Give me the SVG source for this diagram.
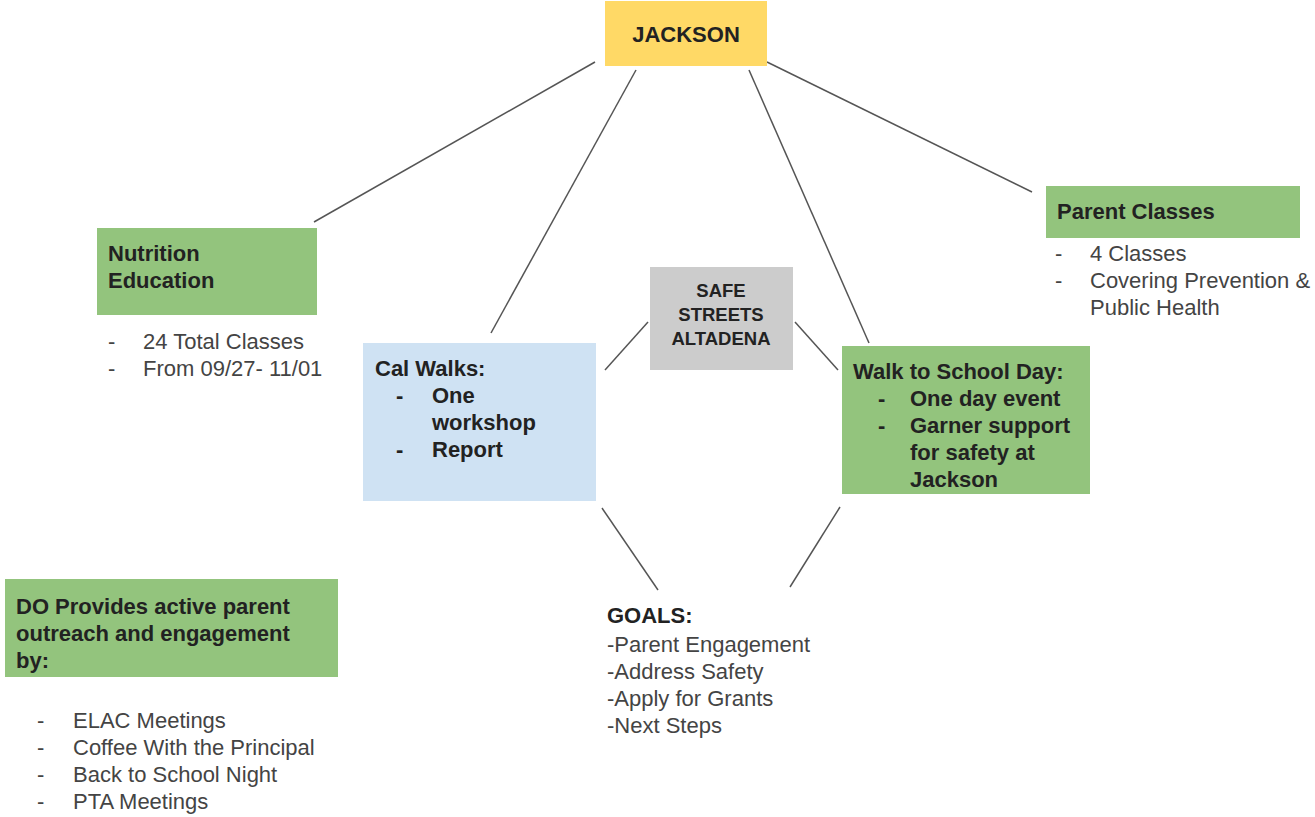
<svg xmlns="http://www.w3.org/2000/svg" width="1315" height="817" viewBox="0 0 1315 817">
<style>
text{font-family:"Liberation Sans",Arial,sans-serif;}
.h{font-weight:bold;font-size:22px;fill:#222;}
.b{font-size:22px;fill:#444;}
.c{font-weight:bold;fill:#222;text-anchor:middle;}
.green{fill:#93c47d;}
.conn line{stroke:#555;stroke-width:1.5;}
</style>
<rect width="1315" height="817" fill="#fff"/>
<g id="connectors" class="conn">
<line x1="595" y1="62" x2="314" y2="222"/>
<line x1="636" y1="70" x2="491" y2="333"/>
<line x1="749" y1="70" x2="869" y2="343"/>
<line x1="767" y1="62" x2="1032" y2="192"/>
<line x1="605" y1="370" x2="648" y2="322"/>
<line x1="795" y1="322" x2="838" y2="370"/>
<line x1="602" y1="508" x2="658" y2="590"/>
<line x1="840" y1="507" x2="790" y2="587"/>
</g>
<g id="jackson">
<rect x="605" y="1" width="162" height="65" fill="#ffd966"/>
<text class="c" x="686" y="42" font-size="22">JACKSON</text>
</g>
<g id="nutrition">
<rect class="green" x="97" y="228" width="220" height="87"/>
<text class="h" x="108" y="261">Nutrition</text>
<text class="h" x="108" y="288">Education</text>
<text class="b" x="108" y="349">-</text><text class="b" x="143" y="349">24 Total Classes</text>
<text class="b" x="108" y="376">-</text><text class="b" x="143" y="376">From 09/27- 11/01</text>
</g>
<g id="calwalks">
<rect x="363" y="343" width="233" height="158" fill="#cfe2f3"/>
<text class="h" x="375" y="376">Cal Walks:</text>
<text class="h" x="396" y="403">-</text><text class="h" x="432" y="403">One</text>
<text class="h" x="432" y="430">workshop</text>
<text class="h" x="396" y="457">-</text><text class="h" x="432" y="457">Report</text>
</g>
<g id="safestreets">
<rect x="650" y="267" width="143" height="103" fill="#cccccc"/>
<text class="c" x="721" y="297" font-size="18.5">SAFE</text>
<text class="c" x="721" y="321" font-size="18.5">STREETS</text>
<text class="c" x="721" y="345" font-size="18.5">ALTADENA</text>
</g>
<g id="walktoschool">
<rect class="green" x="842" y="346" width="248" height="148"/>
<text class="h" x="853" y="379">Walk to School Day:</text>
<text class="h" x="878" y="406">-</text><text class="h" x="910" y="406">One day event</text>
<text class="h" x="878" y="433">-</text><text class="h" x="910" y="433">Garner support</text>
<text class="h" x="910" y="460">for safety at</text>
<text class="h" x="910" y="487">Jackson</text>
</g>
<g id="parentclasses">
<rect class="green" x="1046" y="186" width="254" height="52"/>
<text class="h" x="1057" y="219">Parent Classes</text>
<text class="b" x="1055" y="261">-</text><text class="b" x="1090" y="261">4 Classes</text>
<text class="b" x="1055" y="288">-</text><text class="b" x="1090" y="288">Covering Prevention &amp;</text>
<text class="b" x="1090" y="315">Public Health</text>
</g>
<g id="doprovides">
<rect class="green" x="5" y="579" width="333" height="98"/>
<text class="h" x="16" y="614">DO Provides active parent</text>
<text class="h" x="16" y="641">outreach and engagement</text>
<text class="h" x="16" y="668">by:</text>
<text class="b" x="37" y="728">-</text><text class="b" x="73" y="728">ELAC Meetings</text>
<text class="b" x="37" y="755">-</text><text class="b" x="73" y="755">Coffee With the Principal</text>
<text class="b" x="37" y="782">-</text><text class="b" x="73" y="782">Back to School Night</text>
<text class="b" x="37" y="809">-</text><text class="b" x="73" y="809">PTA Meetings</text>
</g>
<g id="goals">
<text class="h" x="607" y="623">GOALS:</text>
<text class="b" x="607" y="652">-Parent Engagement</text>
<text class="b" x="607" y="679">-Address Safety</text>
<text class="b" x="607" y="706">-Apply for Grants</text>
<text class="b" x="607" y="733">-Next Steps</text>
</g>
</svg>
